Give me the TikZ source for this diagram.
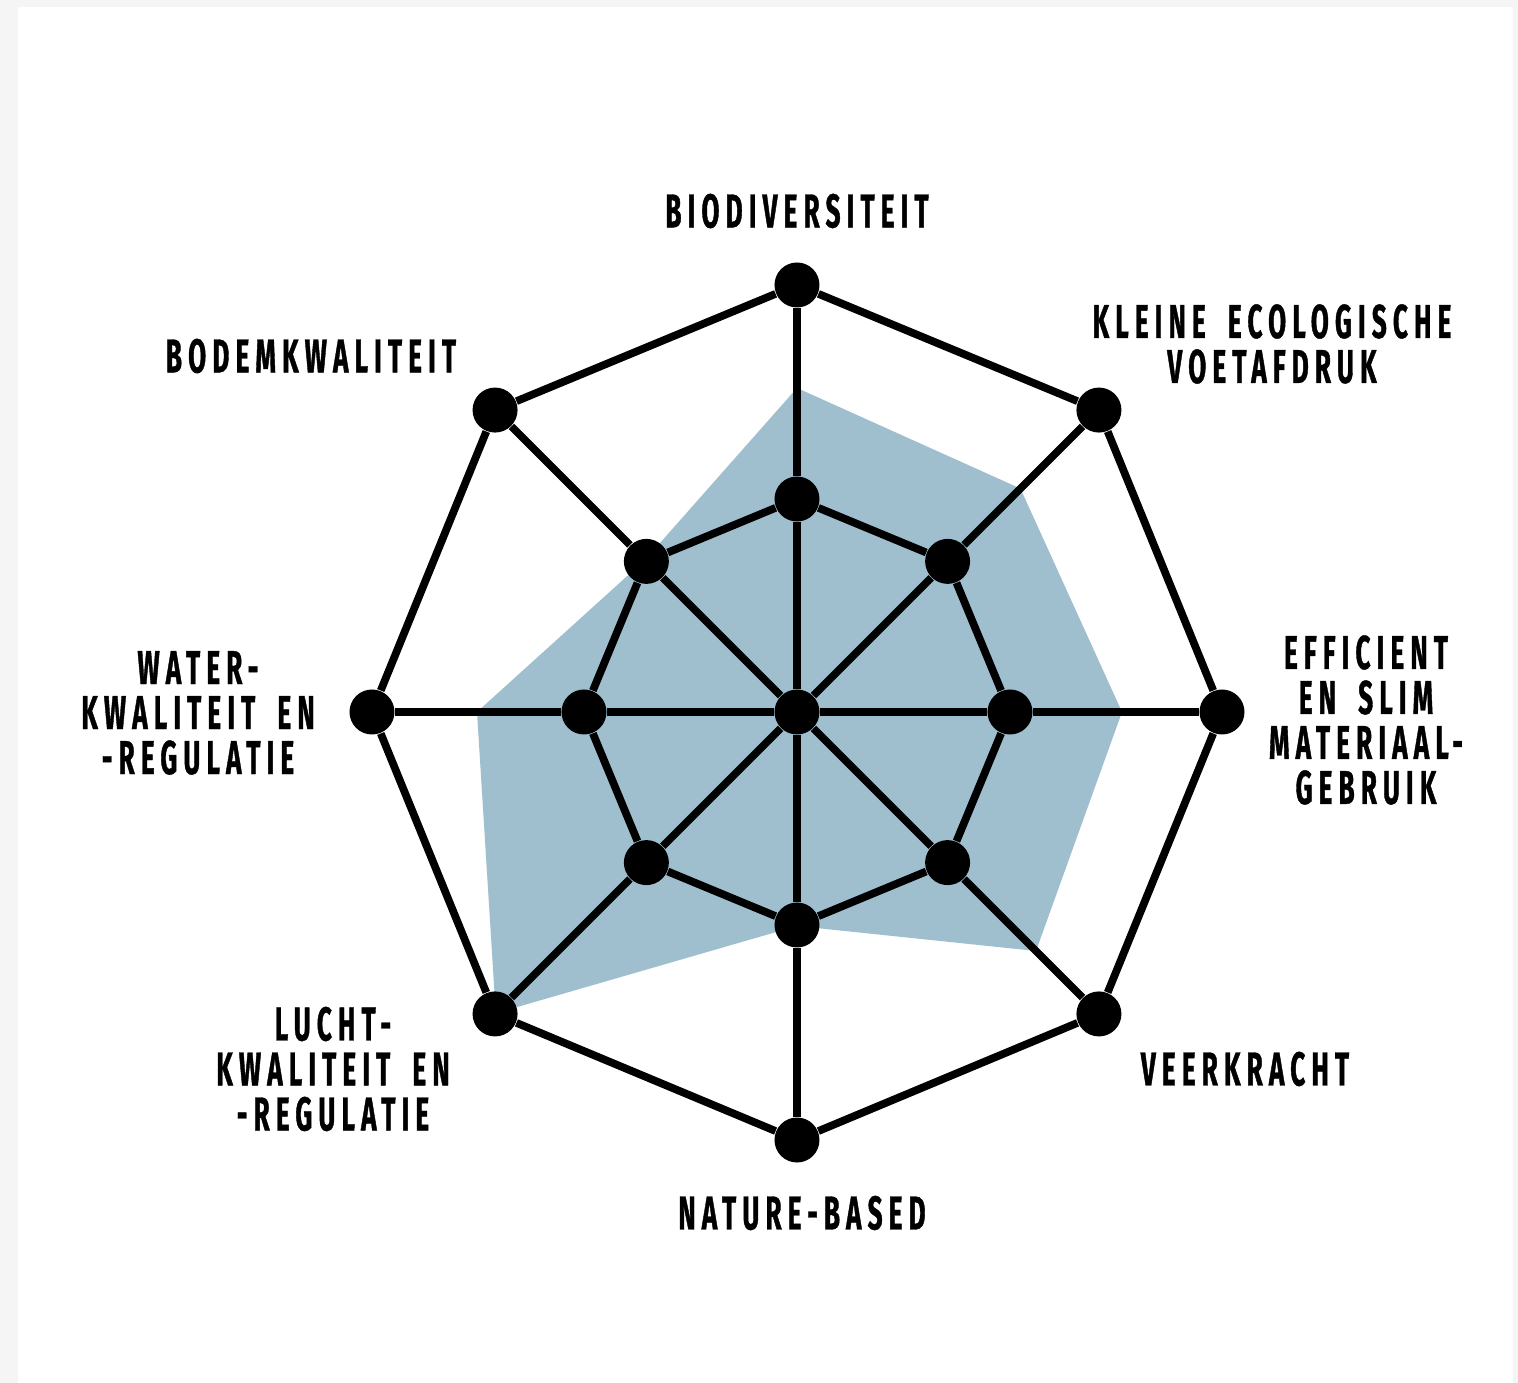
\documentclass[tikz,border=0pt]{standalone}
\usepackage{fontspec}
\newfontfamily\axisfont{Fira Sans}[FakeStretch=0.55,LetterSpace=13,FakeBold=0.8,WordSpace=1.8]
\definecolor{panelgray}{HTML}{F5F5F5}
\definecolor{scoreblue}{HTML}{9FBFCF}

\begin{document}
\begin{tikzpicture}[
    spoke/.style={line width=2.2pt},
    dot/.style={circle, fill=black, inner sep=0pt, minimum size=0.45cm},
    axislabel/.style={align=center, font=\axisfont\bfseries\fontsize{13.5}{12.8}\selectfont}
  ]
    \useasboundingbox (-7.97, -6.71) rectangle (7.21, 7.12);
    \fill [panelgray] (-7.97, -6.71) rectangle (7.21, 7.12);
    \fill [white] (-7.79, -6.71) rectangle (7.16, 7.05);

    % score area
    \coordinate (s1) at (90:3.24);
    \coordinate (s2) at (45:3.16);
    \coordinate (s3) at (0:3.25);
    \coordinate (s4) at (-45:3.38);
    \coordinate (s5) at (-90:2.14);
    \coordinate (s6) at (-135:4.26);
    \coordinate (s7) at (180:3.20);
    \coordinate (s8) at (135:2.15);
    \fill [scoreblue] (s1) -- (s2) -- (s3) -- (s4) -- (s5) -- (s6) -- (s7) -- (s8) -- cycle;

    % centre, middle ring, outer ring
    \node [dot] (c) at (0, 0) {};

    \node [dot] (m1) at (90:2.13) {};
    \node [dot] (m2) at (45:2.13) {};
    \node [dot] (m3) at (0:2.13) {};
    \node [dot] (m4) at (-45:2.13) {};
    \node [dot] (m5) at (-90:2.13) {};
    \node [dot] (m6) at (-135:2.13) {};
    \node [dot] (m7) at (180:2.13) {};
    \node [dot] (m8) at (135:2.13) {};

    \node [dot] (o1) at (90:4.27) {};
    \node [dot] (o2) at (45:4.27) {};
    \node [dot] (o3) at (0:4.25) {};
    \node [dot] (o4) at (-45:4.27) {};
    \node [dot] (o5) at (-90:4.28) {};
    \node [dot] (o6) at (-135:4.27) {};
    \node [dot] (o7) at (180:4.25) {};
    \node [dot] (o8) at (135:4.27) {};

    \draw [spoke] (c) to (m1);
    \draw [spoke] (m1) to (o1);
    \draw [spoke] (c) to (m2);
    \draw [spoke] (m2) to (o2);
    \draw [spoke] (c) to (m3);
    \draw [spoke] (m3) to (o3);
    \draw [spoke] (c) to (m4);
    \draw [spoke] (m4) to (o4);
    \draw [spoke] (c) to (m5);
    \draw [spoke] (m5) to (o5);
    \draw [spoke] (c) to (m6);
    \draw [spoke] (m6) to (o6);
    \draw [spoke] (c) to (m7);
    \draw [spoke] (m7) to (o7);
    \draw [spoke] (c) to (m8);
    \draw [spoke] (m8) to (o8);

    \draw [spoke] (m1) to (m2);
    \draw [spoke] (m2) to (m3);
    \draw [spoke] (m3) to (m4);
    \draw [spoke] (m4) to (m5);
    \draw [spoke] (m5) to (m6);
    \draw [spoke] (m6) to (m7);
    \draw [spoke] (m7) to (m8);
    \draw [spoke] (m8) to (m1);

    \draw [spoke] (o1) to (o2);
    \draw [spoke] (o2) to (o3);
    \draw [spoke] (o3) to (o4);
    \draw [spoke] (o4) to (o5);
    \draw [spoke] (o5) to (o6);
    \draw [spoke] (o6) to (o7);
    \draw [spoke] (o7) to (o8);
    \draw [spoke] (o8) to (o1);

    % axis names
    \node [axislabel] (lbio) at (0, 5.01) {BIODIVERSITEIT};
    \node [axislabel] (lvoet) at (4.75, 3.68) {KLEINE ECOLOGISCHE\\VOETAFDRUK};
    \node [axislabel] (lmat) at (5.69, -0.08) {EFFICIENT\\EN SLIM\\MATERIAAL-\\GEBRUIK};
    \node [axislabel] (lveer) at (4.48, -3.57) {VEERKRACHT};
    \node [axislabel] (lnat) at (0.05, -5.01) {NATURE-BASED};
    \node [axislabel] (llucht) at (-4.64, -3.57) {LUCHT-\\KWALITEIT EN\\-REGULATIE};
    \node [axislabel] (lwater) at (-5.99, -0.01) {WATER-\\KWALITEIT EN\\-REGULATIE};
    \node [axislabel] (lbodem) at (-4.86, 3.56) {BODEMKWALITEIT};
\end{tikzpicture}
\end{document}
